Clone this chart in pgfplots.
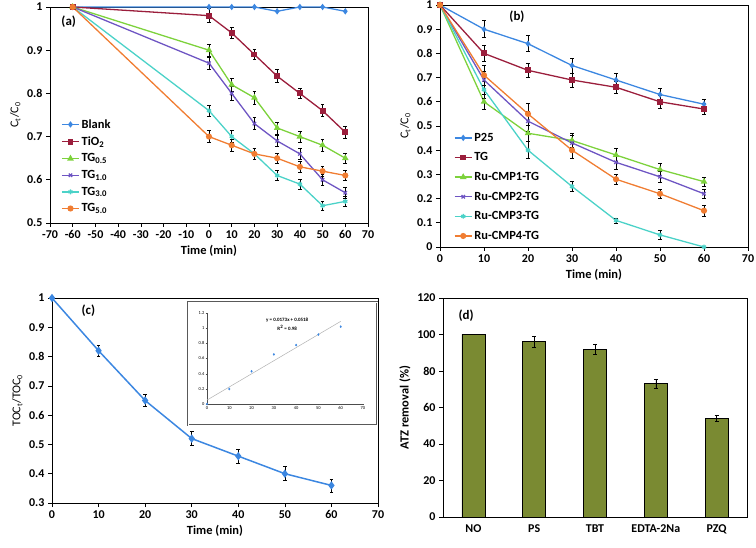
\documentclass[border=0pt]{standalone}
\usepackage{fontspec}
\setmainfont{Carlito}
\usepackage{pgfplots}
\pgfplotsset{compat=1.18}

\definecolor{cBlue}{RGB}{60,135,225}
\definecolor{cRed}{RGB}{155,30,60}
\definecolor{cGreen}{RGB}{125,210,60}
\definecolor{cPurple}{RGB}{110,85,195}
\definecolor{cCyan}{RGB}{75,210,200}
\definecolor{cOrange}{RGB}{240,125,50}
\definecolor{cOlive}{RGB}{122,138,50}

\pgfplotsset{
  panel/.style={scale only axis, anchor=south west, clip=false,
    axis line style={black, line width=0.7pt},
    tick pos=left, tick align=outside, major tick length=4bp,
    tick style={black, line width=0.7pt},
    /pgf/number format/assume math mode=true,
    /pgf/number format/fixed,
    ticklabel style={font=\fontsize{12}{14}\selectfont\bfseries},
    label style={font=\fontsize{12.5}{14}\selectfont\bfseries},
    legend cell align=left},
  ser/.style={color=#1, line width=1.3pt, mark options={solid, fill=#1, draw=#1}},
  eb/.style={error bars/.cd, y dir=both, y explicit,
    error bar style={black, line width=0.5pt},
    error mark options={black, rotate=90, mark size=1.8pt, line width=0.5pt}},
}

\begin{document}
\begin{tikzpicture}
\useasboundingbox (0,0) rectangle (756bp,548bp);

% (a)
\begin{axis}[panel, at={(50bp,325bp)}, width=318bp, height=216bp,
  xmin=-70, xmax=70, ymin=0.5, ymax=1,
  xtick={-70,-60,-50,-40,-30,-20,-10,0,10,20,30,40,50,60,70},
  ytick={0.5,0.6,0.7,0.8,0.9,1},
  xlabel={Time (min)}, ylabel={C\textsubscript{t}/C\textsubscript{0}},
  ylabel style={font=\fontsize{12}{14}\selectfont},
  legend style={draw=none, fill=none, at={(0.035,0.49)}, anchor=north west,
    font=\fontsize{12.5}{13}\selectfont\bfseries, row sep=3pt, inner sep=0pt}]
\addplot[ser=cBlue, mark=diamond*, mark size=2.2pt, eb] coordinates {
  (-60,1) (0,1) (10,1) (20,1) (30,0.99) (40,1) (50,1) (60,0.99)};
\addplot[ser=cRed, mark=square*, mark size=2.3pt, eb] coordinates {
  (-60,1) (0,0.98) +- (0,0.016) (10,0.94) +- (0,0.013) (20,0.89) +- (0,0.012)
  (30,0.84) +- (0,0.015) (40,0.80) +- (0,0.012) (50,0.76) +- (0,0.014) (60,0.71) +- (0,0.013)};
\addplot[ser=cGreen, mark=triangle*, mark size=2.6pt, eb] coordinates {
  (-60,1) (0,0.90) +- (0,0.014) (10,0.82) +- (0,0.016) (20,0.79) +- (0,0.014)
  (30,0.72) +- (0,0.014) (40,0.70) +- (0,0.013) (50,0.68) +- (0,0.013) (60,0.65) +- (0,0.012)};
\addplot[ser=cPurple, mark=x, mark size=2.4pt, eb] coordinates {
  (-60,1) (0,0.87) +- (0,0.014) (10,0.80) +- (0,0.016) (20,0.73) +- (0,0.014)
  (30,0.69) +- (0,0.013) (40,0.66) +- (0,0.013) (50,0.60) +- (0,0.013) (60,0.57) +- (0,0.012)};
\addplot[ser=cCyan, mark=asterisk, mark size=2.4pt, eb] coordinates {
  (-60,1) (0,0.76) +- (0,0.012) (10,0.70) +- (0,0.014) (20,0.66) +- (0,0.013)
  (30,0.61) +- (0,0.012) (40,0.59) +- (0,0.012) (50,0.54) +- (0,0.011) (60,0.55) +- (0,0.012)};
\addplot[ser=cOrange, mark=*, mark size=2.4pt, eb] coordinates {
  (-60,1) (0,0.70) +- (0,0.014) (10,0.68) +- (0,0.013) (20,0.66) +- (0,0.012)
  (30,0.65) +- (0,0.012) (40,0.63) +- (0,0.012) (50,0.62) +- (0,0.011) (60,0.61) +- (0,0.011)};
\legend{Blank, TiO\textsubscript{2}, TG\textsubscript{0.5}, TG\textsubscript{1.0}, TG\textsubscript{3.0}, TG\textsubscript{5.0}}
\node[anchor=west, font=\fontsize{13}{15}\selectfont\bfseries] at (rel axis cs:0.025,0.93) {(a)};
\end{axis}

% (b)
\begin{axis}[panel, at={(440bp,301bp)}, width=308bp, height=242bp,
  xmin=0, xmax=70, ymin=0, ymax=1,
  xtick={0,10,20,30,40,50,60,70},
  ytick={0,0.1,0.2,0.3,0.4,0.5,0.6,0.7,0.8,0.9,1},
  xlabel={Time (min)}, ylabel={C\textsubscript{t}/C\textsubscript{0}},
  ylabel style={font=\fontsize{12}{14}\selectfont},
  legend style={draw=none, fill=none, at={(0.045,0.48)}, anchor=north west,
    font=\fontsize{12.5}{13}\selectfont\bfseries, row sep=6pt, inner sep=0pt}]
\addplot[ser=cBlue, mark=diamond*, mark size=2.2pt, eb] coordinates {
  (0,1) (10,0.90) +- (0,0.035) (20,0.84) +- (0,0.033) (30,0.75) +- (0,0.03)
  (40,0.69) +- (0,0.028) (50,0.63) +- (0,0.025) (60,0.59) +- (0,0.022)};
\addplot[ser=cRed, mark=square*, mark size=2.3pt, eb] coordinates {
  (0,1) (10,0.80) +- (0,0.032) (20,0.73) +- (0,0.03) (30,0.69) +- (0,0.028)
  (40,0.66) +- (0,0.026) (50,0.60) +- (0,0.025) (60,0.57) +- (0,0.022)};
\addplot[ser=cGreen, mark=triangle*, mark size=2.6pt, eb] coordinates {
  (0,1) (10,0.60) +- (0,0.032) (20,0.47) +- (0,0.035) (30,0.44) +- (0,0.028)
  (40,0.38) +- (0,0.026) (50,0.32) +- (0,0.024) (60,0.27) +- (0,0.02)};
\addplot[ser=cPurple, mark=x, mark size=2.4pt, eb] coordinates {
  (0,1) (10,0.69) +- (0,0.035) (20,0.52) +- (0,0.04) (30,0.43) +- (0,0.03)
  (40,0.35) +- (0,0.028) (50,0.29) +- (0,0.022) (60,0.22) +- (0,0.02)};
\addplot[ser=cCyan, mark=asterisk, mark size=2.4pt, eb] coordinates {
  (0,1) (10,0.65) +- (0,0.035) (20,0.40) +- (0,0.035) (30,0.25) +- (0,0.02)
  (40,0.11) +- (0,0.01) (50,0.05) +- (0,0.02) (60,0.00)};
\addplot[ser=cOrange, mark=*, mark size=2.4pt, eb] coordinates {
  (0,1) (10,0.71) +- (0,0.04) (20,0.55) +- (0,0.045) (30,0.40) +- (0,0.033)
  (40,0.28) +- (0,0.022) (50,0.22) +- (0,0.018) (60,0.15) +- (0,0.022)};
\legend{P25, TG, Ru-CMP1-TG, Ru-CMP2-TG, Ru-CMP3-TG, Ru-CMP4-TG}
\node[font=\fontsize{13}{15}\selectfont\bfseries] at (rel axis cs:0.25,0.95) {(b)};
\end{axis}

% (c)
\begin{axis}[panel, at={(52bp,45bp)}, width=326bp, height=205bp,
  xmin=0, xmax=70, ymin=0.3, ymax=1,
  xtick={0,10,20,30,40,50,60,70},
  ytick={0.3,0.4,0.5,0.6,0.7,0.8,0.9,1},
  xlabel={Time (min)}, ylabel={TOC\textsubscript{t}/TOC\textsubscript{0}},
  ylabel style={font=\fontsize{12}{14}\selectfont}]
\addplot[ser=cBlue, line width=1.5pt, mark=diamond*, mark size=3pt, eb] coordinates {
  (0,1) (10,0.82) +- (0,0.02) (20,0.65) +- (0,0.02) (30,0.52) +- (0,0.024)
  (40,0.46) +- (0,0.024) (50,0.40) +- (0,0.024) (60,0.36) +- (0,0.022)};
\node[anchor=west, font=\fontsize{13}{15}\selectfont\bfseries] at (rel axis cs:0.08,0.94) {(c)};
\end{axis}

\draw[gray!70!black, line width=0.6pt, double=white, double distance=0.8pt, fill=white]
  (188bp,123bp) rectangle (377bp,246bp);

% inset
\begin{axis}[scale only axis, anchor=south west, at={(207bp,144bp)},
  width=156bp, height=91bp, xmin=0, xmax=70, ymin=0, ymax=1.2,
  axis lines=left, axis line style={-, gray!60!black, line width=0.3pt},
  tick align=outside, major tick length=1.5bp, tick style={gray!60!black, line width=0.3pt},
  xtick={0,10,20,30,40,50,60,70}, ytick={0,0.2,0.4,0.6,0.8,1,1.2},
  /pgf/number format/fixed,
  /pgf/number format/assume math mode=true,
  ticklabel style={font=\fontsize{4.5}{5}\selectfont, inner sep=1pt}, clip=false]
\addplot[gray!60, line width=0.5pt] coordinates {(0,0.0518) (60,1.0898)};
\addplot[only marks, mark=diamond*, mark size=1pt, color=cBlue] coordinates {
  (0,0) (10,0.198) (20,0.431) (30,0.654) (40,0.777) (50,0.916) (60,1.02)};
\node[font=\fontsize{5}{6}\selectfont\bfseries] at (axis cs:36,1.1) {y = 0.0173x + 0.0518};
\node[font=\fontsize{5}{6}\selectfont\bfseries] at (axis cs:36,1.01) {R\textsuperscript{2} = 0.98};
\end{axis}

% (d)
\begin{axis}[panel, at={(443bp,31bp)}, width=304bp, height=219bp,
  xmin=-0.5, xmax=4.5, ymin=0, ymax=120,
  ytick={0,20,40,60,80,100,120},
  xtick={0,1,2,3,4}, xticklabels={NO, PS, TBT, EDTA-2Na, PZQ},
  major x tick style={draw=none},
  extra x ticks={-0.5,0.5,1.5,2.5,3.5,4.5}, extra x tick labels={},
  extra x tick style={tick style={black, line width=0.7pt}},
  ylabel={ATZ removal (\%)},
  ybar, bar width=23bp]
\addplot[fill=cOlive, draw=black, line width=0.8pt,
  error bars/.cd, y dir=both, y explicit,
  error bar style={black, line width=0.6pt},
  error mark options={black, rotate=90, mark size=2pt, line width=0.6pt}] coordinates {
  (0,100) (1,96) +- (0,3) (2,92) +- (0,2.8) (3,73) +- (0,2.3) (4,54) +- (0,1.8)};
\node[anchor=west, font=\fontsize{13}{15}\selectfont\bfseries] at (rel axis cs:0.04,0.92) {(d)};
\end{axis}
\end{tikzpicture}
\end{document}
